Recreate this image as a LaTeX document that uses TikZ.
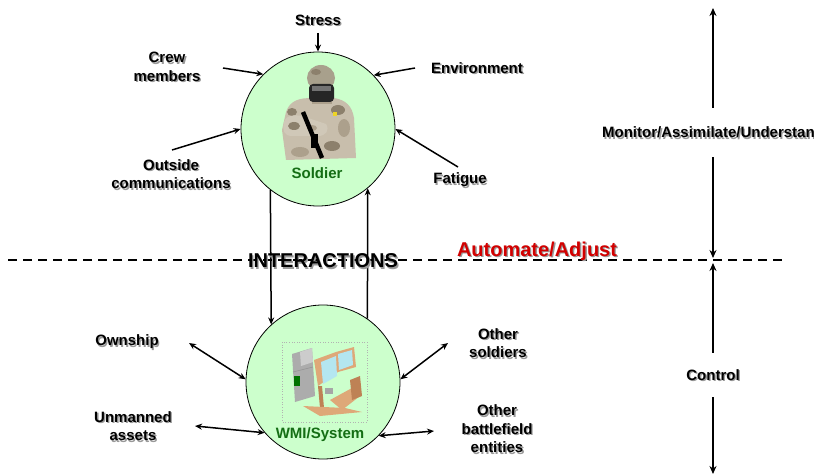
\documentclass[tikz,border=0pt]{standalone}
\usepackage{fontspec}
\setmainfont{Liberation Sans}
\usetikzlibrary{arrows.meta}
\definecolor{circfill}{RGB}{204,255,204}
\definecolor{lblgreen}{RGB}{20,110,20}
\definecolor{autored}{RGB}{210,0,0}
\definecolor{camo}{RGB}{200,190,172}
\definecolor{camodark}{RGB}{140,128,108}
\definecolor{camomid}{RGB}{172,160,140}
\definecolor{helmet}{RGB}{168,160,140}
\definecolor{woodtan}{RGB}{222,168,120}
\definecolor{wooddark}{RGB}{190,130,85}
\definecolor{screen}{RGB}{180,230,240}
\newcommand\shd[1]{\leavevmode\rlap{\hspace{1.4pt}\raisebox{-1.4pt}[0pt][0pt]{\textcolor{black!40}{#1}}}#1}
\tikzset{
  lab/.style={font=\bfseries\fontsize{15}{18.5}\selectfont, align=center, inner sep=0pt},
  biglab/.style={font=\bfseries\fontsize{20}{24}\selectfont, inner sep=0pt},
  greenlab/.style={lab, text=lblgreen},
  bubble/.style={circle, draw=black, line width=0.8pt, fill=circfill, minimum size=154pt, inner sep=0pt},
  arr/.style={line width=1.5pt, -{Stealth[length=7pt,width=6pt]}},
  darr/.style={line width=1.5pt, {Stealth[length=7pt,width=6pt]}-{Stealth[length=7pt,width=6pt]}},
  bigarr/.style={line width=2pt, -{Stealth[length=8pt,width=7pt]}},
  dashline/.style={line width=2pt, dash pattern=on 9pt off 6pt}
}
\begin{document}
\begin{tikzpicture}[x=1pt,y=-1pt]
\useasboundingbox (0,0) rectangle (814,476);
\clip (0,0) rectangle (814,476);
\fill[white] (0,0) rectangle (814,476);

% dashed separator
\coordinate (dl) at (8,260);
\coordinate (dr) at (787,260);
\draw[dashline] (dl) -- (dr);

% circles
\node[bubble] (sol) at (318,129) {};
\node[bubble] (wmi) at (323,382) {};

% soldier figure
\begin{scope}
  % torso
  \fill[camo] (286,112) .. controls (290,100) and (300,98) .. (312,98)
     -- (334,98) .. controls (346,100) and (352,106) .. (354,118)
     -- (356,158) -- (286,160) -- (282,130) -- cycle;
  \fill[camodark] (338,110) ellipse (7 and 5);
  \fill[camomid] (344,128) ellipse (6 and 9);
  \fill[camodark] (332,146) ellipse (8 and 5);
  \fill[camomid] (300,152) ellipse (9 and 5);
  \fill[camodark] (292,112) ellipse (5 and 4);
  % arm across chest
  \fill[camo!85!white] (284,122) .. controls (286,114) and (298,114) .. (308,118)
     -- (326,124) .. controls (330,130) and (326,136) .. (318,136)
     -- (292,136) .. controls (284,136) and (282,130) .. (284,122) -- cycle;
  \fill[camodark] (294,126) ellipse (6 and 4);
  \fill[camomid] (312,128) ellipse (5 and 3);
  % neck and head
  \fill[camomid] (312,96) rectangle (332,104);
  \fill[helmet] (321,78) ellipse (14 and 13);
  \fill[camodark] (316,72) ellipse (5 and 3);
  \fill[black!85, rounded corners=4pt] (309,84) rectangle (334,102);
  \fill[black!55] (312,86) rectangle (331,91);
  % rifle
  \draw[black, line width=4.5pt] (303,112) -- (322,158);
  \fill[black] (311,134) rectangle (318,148);
  \fill[yellow!70!brown] (333,112) rectangle (337,116);
\end{scope}

% workstation figure
\begin{scope}
  \draw[gray!60, dotted, line width=0.6pt] (282,342) rectangle (367,422);
  \fill[gray!65] (292,354) -- (312,348) -- (315,396) -- (295,402) -- cycle;
  \fill[gray!40] (300,352) -- (312,348) -- (313,362) -- (301,366) -- cycle;
  \draw[gray!85, line width=0.6pt] (293,372) -- (313,367);
  \fill[green!45!black] (294,376) rectangle (300,386);
  \fill[woodtan] (314,360) -- (336,352) -- (354,347) -- (356,367) -- (338,372) -- (318,386) -- cycle;
  \fill[screen] (321,362) -- (336,356) -- (337,376) -- (323,384) -- cycle;
  \fill[screen] (338,354) -- (352,350) -- (353,365) -- (339,370) -- cycle;
  \fill[gray!70] (325,388) rectangle (333,394);
  \fill[wooddark] (318,386) -- (322,386) -- (324,408) -- (320,408) -- cycle;
  \fill[woodtan] (330,400) -- (352,388) -- (360,396) -- (342,410) -- cycle;
  \fill[wooddark] (350,380) -- (360,376) -- (362,396) -- (352,400) -- cycle;
  \fill[woodtan] (303,406) -- (345,408) -- (362,412) -- (320,416) -- cycle;
\end{scope}

% labels around soldier
\node[lab] (stress) at (318,20) {\shd{Stress}};
\node[lab] (crew) at (167,67) {\shd{Crew}\\\shd{members}};
\node[lab] (env) at (477,68) {\shd{Environment}};
\node[lab] (outc) at (171,174) {\shd{Outside}\\\shd{communications}};
\node[lab] (fat) at (460,180) {\shd{Fatigue}};
\node[greenlab] (soltxt) at (317,173) {Soldier};

\coordinate (cs) at (318,33);
\coordinate (cc) at (223,68);
\coordinate (ce) at (415,68);
\coordinate (co) at (172,150);
\coordinate (cf) at (458,167);
\draw[arr] (cs) -- (sol.90);
\draw[arr] (cc) -- (sol.135.5);
\draw[arr] (ce) -- (sol.44.5);
\draw[arr] (co) -- (sol.180);
\draw[arr] (cf) -- (sol.0);

% interactions
\draw[arr] (sol.232) -- (wmi.132.5);
\draw[arr] (wmi.55.2) -- (sol.-50.5);
\node[biglab] (inter) at (323,261) {\shd{INTERACTIONS}};
\node[biglab, text=autored] (auto) at (537,251) {\shd{Automate/Adjust}};

% labels around WMI
\node[lab] (own) at (127,342) {\shd{Ownship}};
\node[lab] (unm) at (133,426) {\shd{Unmanned}\\\shd{assets}};
\node[lab] (oths) at (498,343) {\shd{Other}\\\shd{soldiers}};
\node[lab] (othb) at (497,429) {\shd{Other}\\\shd{battlefield}\\\shd{entities}};
\node[greenlab] (wmitxt) at (320,435) {WMI/System};

\coordinate (cw) at (189,343);
\coordinate (cu) at (195,426);
\coordinate (cos) at (448,343);
\coordinate (cob) at (434,431);
\draw[darr] (cw) -- (wmi.178);
\draw[darr] (cu) -- (wmi.221.5);
\draw[darr] (cos) -- (wmi.2);
\draw[darr] (cob) -- (wmi.-44.5);

% right-hand scale
\node[lab, minimum height=49pt] (mon) at (713,132.5) {\shd{Monitor/Assimilate/Understand}};
\node[lab, minimum height=44pt] (ctl) at (713,375) {\shd{Control}};
\coordinate (mtop) at (713,8);
\coordinate (mdash) at (713,258);
\coordinate (cdash) at (713,263);
\coordinate (cbot) at (713,474);
\draw[bigarr] (mon.north) -- (mtop);
\draw[bigarr] (mon.south) -- (mdash);
\draw[bigarr] (ctl.north) -- (cdash);
\draw[bigarr] (ctl.south) -- (cbot);
\end{tikzpicture}
\end{document}
